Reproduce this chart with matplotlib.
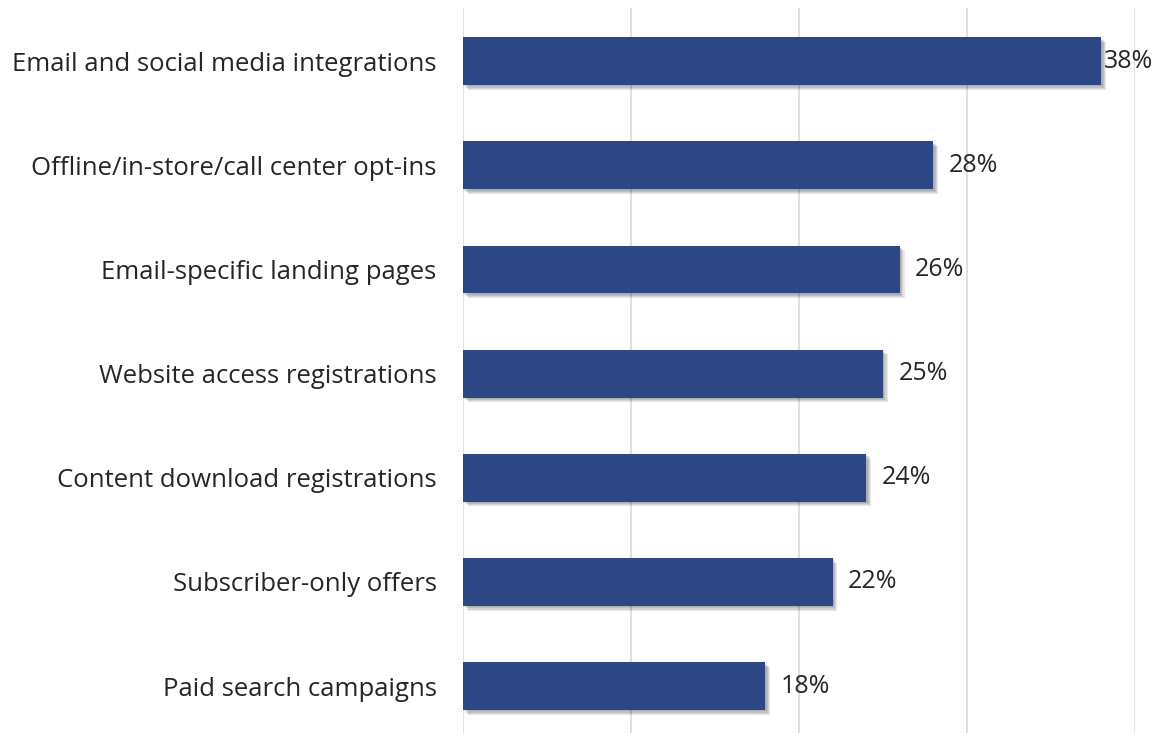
import matplotlib
matplotlib.use("Agg")
import matplotlib.pyplot as plt
import matplotlib.patheffects as pe

categories = [
    "Email and social media integrations",
    "Offline/in-store/call center opt-ins",
    "Email-specific landing pages",
    "Website access registrations",
    "Content download registrations",
    "Subscriber-only offers",
    "Paid search campaigns",
]
values = [38, 28, 26, 25, 24, 22, 18]
x_ticks = [0, 10, 20, 30, 40]

bar_color = "#2c4784"
grid_color = "#d9d9d9"
text_color = "#262626"

plt.rcParams["font.family"] = ["Open Sans", "DejaVu Sans"]

fig = plt.figure(figsize=(11.64, 7.33), dpi=100)
ax = fig.add_axes([463 / 1164, 0.0, (1135 - 463) / 1164, 1 - 8 / 733])

pos = list(range(len(categories)))
bars = ax.barh(pos, values, height=0.46, color=bar_color, zorder=3)
# soft drop shadow: a few stacked faint offsets
shadow = [pe.SimplePatchShadow(offset=(o, -o), shadow_rgbFace="black", alpha=0.09)
          for o in (1, 1.8, 2.6, 3.4)]
for b in bars:
    b.set_path_effects(shadow + [pe.Normal()])

# value labels just past the end of each bar
for p, v in zip(pos, values):
    pad = 1.5 if v == max(values) else 11
    ax.annotate(f"{v}%", xy=(v, p), xytext=(pad, 0), textcoords="offset points",
                ha="left", va="center", fontsize=18, color=text_color)

ax.set_xlim(0, 40)
ax.set_ylim(6.45, -0.51)
ax.set_xticks(x_ticks)
ax.set_xticklabels([])
ax.set_yticks(pos)
ax.set_yticklabels(categories, fontsize=18.5, color=text_color)
ax.tick_params(axis="both", length=0)
ax.tick_params(axis="y", pad=19)
ax.grid(axis="x", color=grid_color, linewidth=1.2, zorder=0)
for s in ax.spines.values():
    s.set_visible(False)

fig.savefig("out.png", dpi=100)
